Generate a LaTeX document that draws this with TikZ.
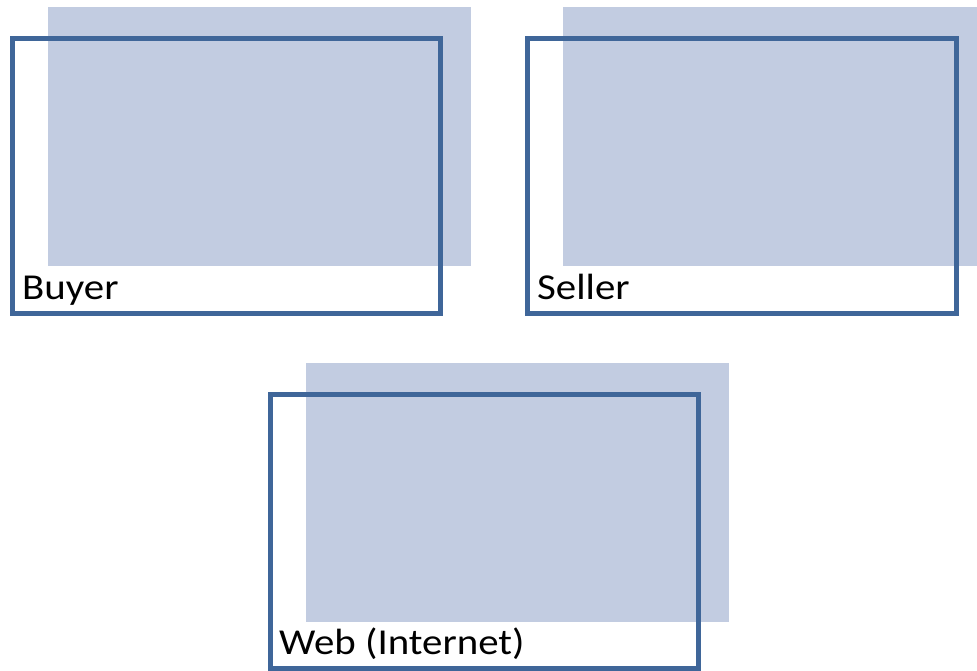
\documentclass[tikz,border=0pt]{standalone}
\usepackage{fontspec}
\setmainfont{Carlito}
\definecolor{panelfill}{HTML}{C2CCE1}
\definecolor{frameblue}{HTML}{3F6699}
\newcommand{\widetext}[1]{\scalebox{1.12}[1]{#1}}
\begin{document}
\begin{tikzpicture}[x=1pt,y=-1pt,
  shade/.style={fill=panelfill,draw=none},
  frame/.style={draw=frameblue,line width=5pt,line join=miter,fill=none,
    inner sep=0pt,outer sep=0pt,anchor=north west},
  caption/.style={anchor=base west,inner sep=0pt,font=\fontsize{36.5}{40}\selectfont}]
\useasboundingbox (0,0) rectangle (977,670);
% Buyer
\fill[shade] (48,7) rectangle (471,266);
\node[frame,minimum width=428pt,minimum height=274.5pt] (buyer) at (12,38.5) {};
\node[caption] (buyerlbl) at (22,299) {\widetext{Buyer}};
% Seller
\fill[shade] (563,7) rectangle (977,266);
\node[frame,minimum width=429pt,minimum height=274.5pt] (seller) at (527,38.5) {};
\node[caption] (sellerlbl) at (537,299) {\widetext{Seller}};
% Web
\fill[shade] (306,363) rectangle (729,622);
\node[frame,minimum width=428.5pt,minimum height=274pt] (web) at (270,394) {};
\node[caption] (weblbl) at (279,654) {\widetext{Web (Internet)}};
\end{tikzpicture}
\end{document}
